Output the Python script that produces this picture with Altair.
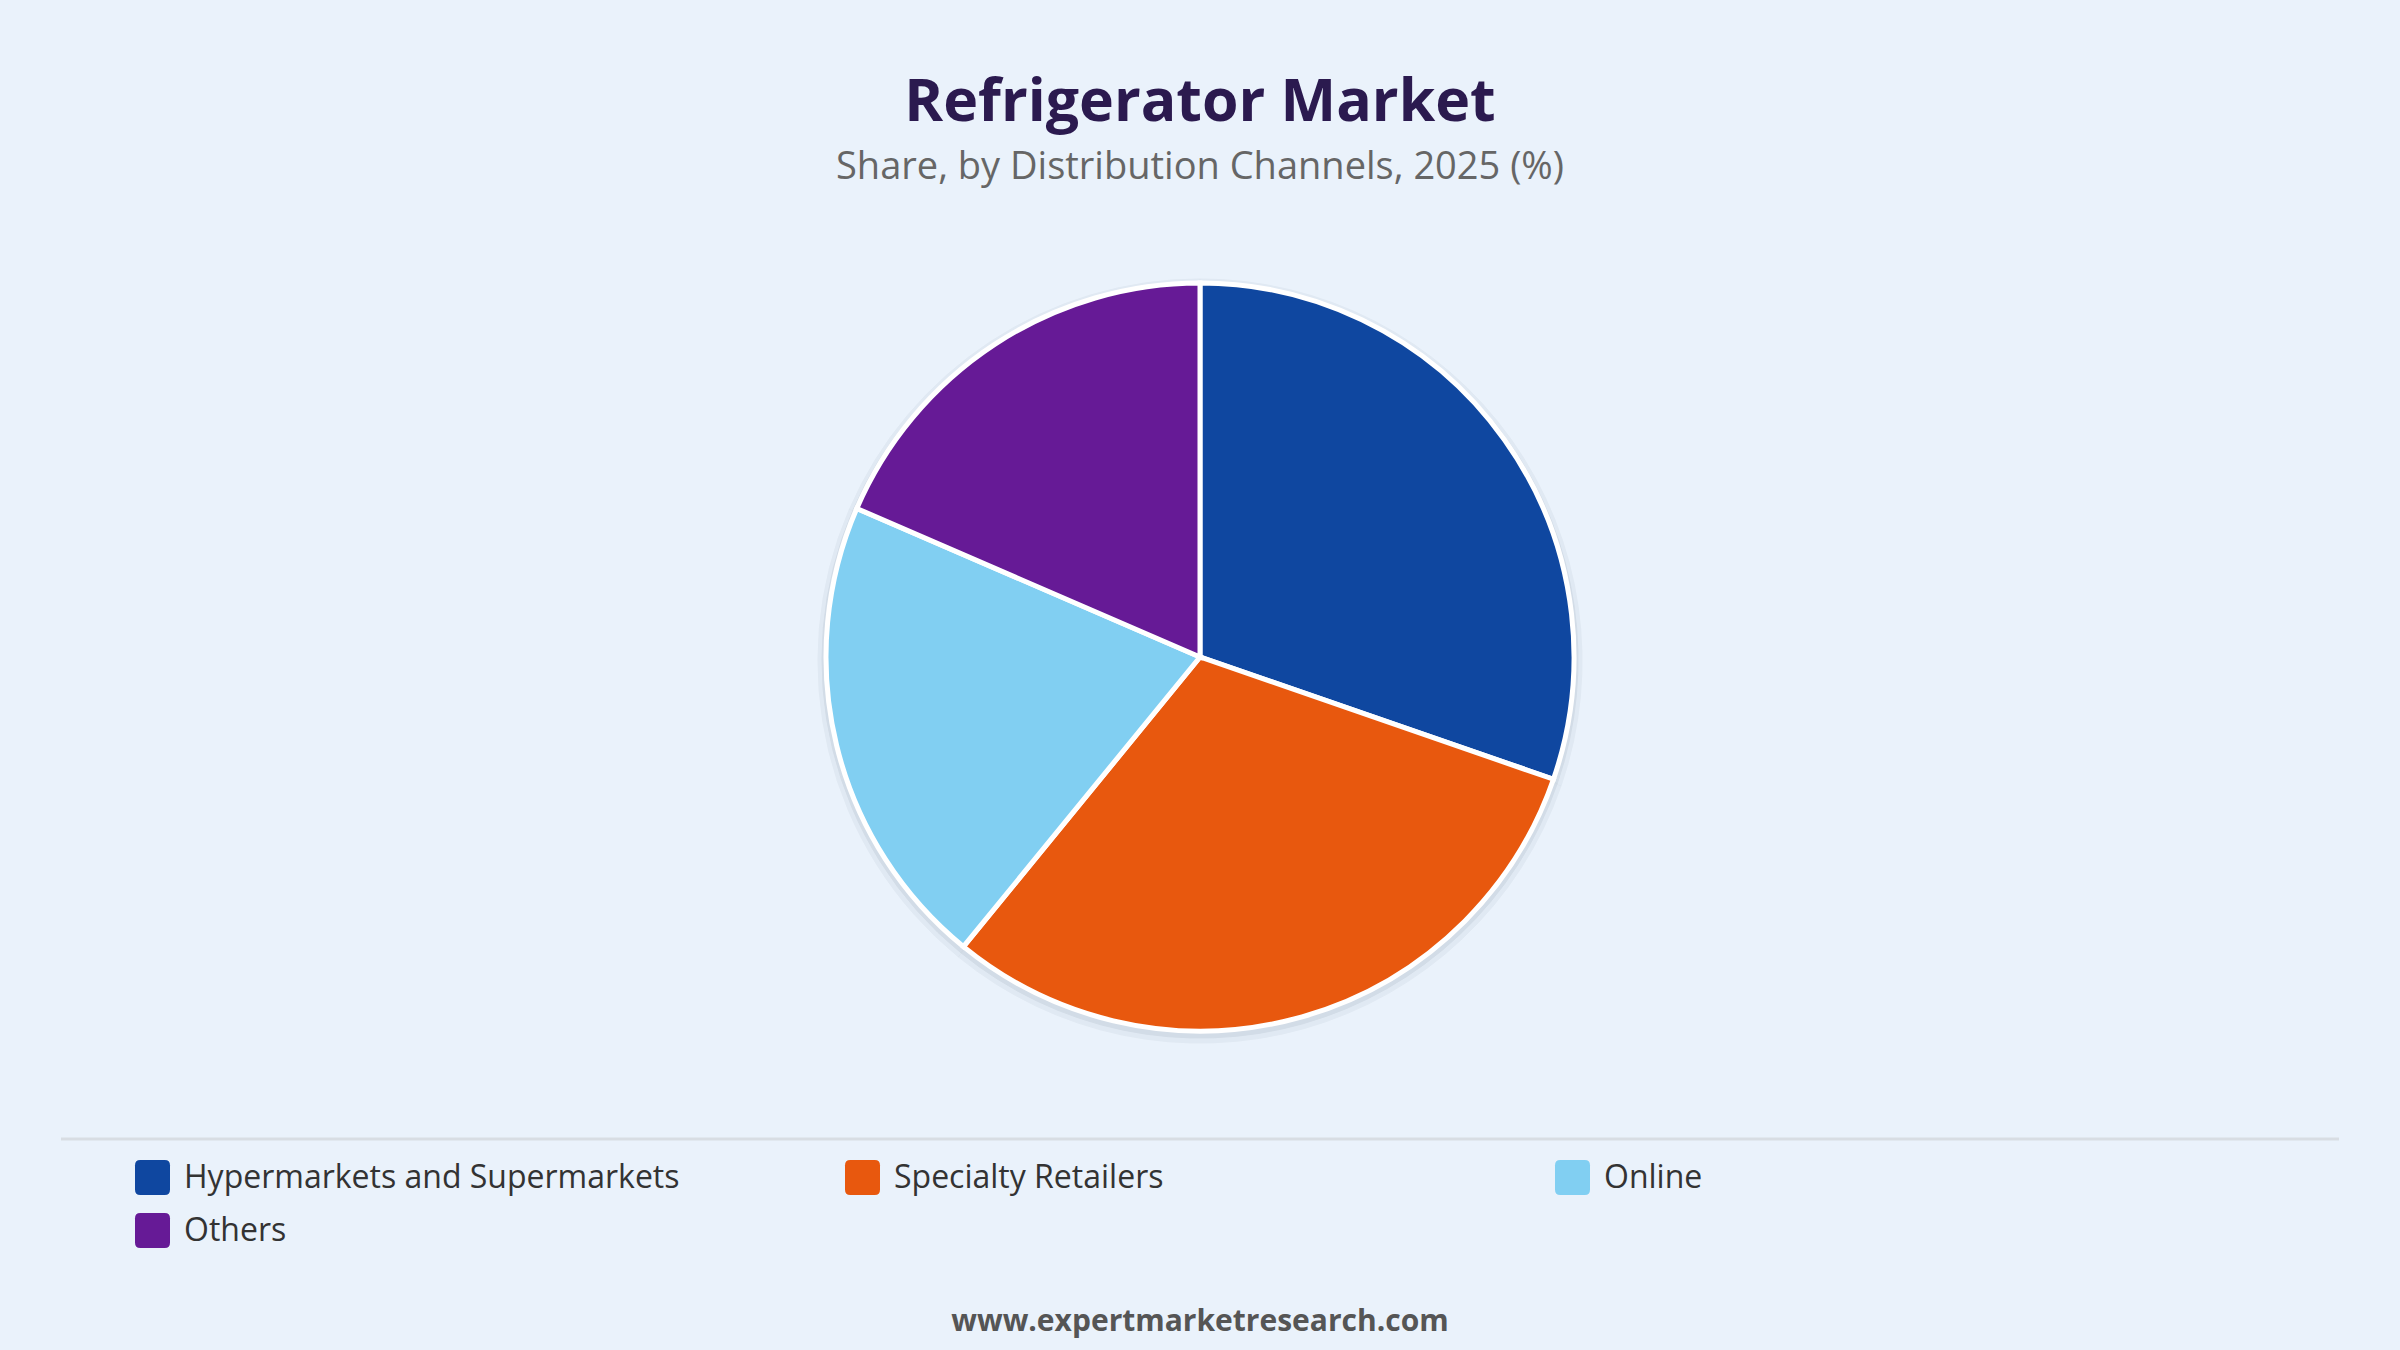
import altair as alt
import pandas as pd

categories = ["Hypermarkets and Supermarkets", "Specialty Retailers", "Online", "Others"]
shares = [30.3, 30.6, 20.6, 18.5]
colors = ["#0F47A0", "#E8580E", "#81CFF2", "#661A96"]

title_text = "Refrigerator Market"
subtitle_text = "Share, by Distribution Channels, 2025 (%)"
footer_text = "www.expertmarketresearch.com"

df = pd.DataFrame({"category": categories, "share": shares, "order": list(range(len(categories)))})

FONT = "Open Sans"
rounded = "M-0.7,-1 H0.7 Q1,-1 1,-0.7 V0.7 Q1,1 0.7,1 H-0.7 Q-1,1 -1,0.7 V-0.7 Q-1,-1 -0.7,-1 Z"

base = alt.Chart(df)

shadow1 = base.mark_arc(radius=382, color="#dbe4ee", stroke="#dbe4ee", opacity=0.6).encode(
    theta=alt.Theta("share:Q", stack=True),
    order=alt.Order("order:Q"),
    x=alt.value(1200), y=alt.value(661),
)
shadow2 = base.mark_arc(radius=378, color="#cdd7e2", stroke="#cdd7e2", opacity=0.7).encode(
    theta=alt.Theta("share:Q", stack=True),
    order=alt.Order("order:Q"),
    x=alt.value(1200), y=alt.value(660),
)

pie = base.mark_arc(radius=374, stroke="white", strokeWidth=5).encode(
    theta=alt.Theta("share:Q", stack=True),
    order=alt.Order("order:Q"),
    color=alt.Color(
        "category:N",
        scale=alt.Scale(domain=categories, range=colors),
        sort=categories,
        legend=alt.Legend(
            title=None,
            orient="none",
            legendX=135,
            legendY=1160,
            direction="horizontal",
            columns=3,
            gridAlign="all",
            columnPadding=165,
            rowPadding=18,
            symbolType=rounded,
            symbolSize=1225,
            symbolStrokeWidth=0,
            symbolOpacity=1,
            labelFont=FONT,
            labelFontSize=32,
            labelColor="#333333",
            labelOffset=14,
            labelLimit=800,
        ),
    ),
    x=alt.value(1200), y=alt.value(657),
)

def text_layer(txt, y, size, weight, color):
    return alt.Chart(pd.DataFrame({"t": [txt]})).mark_text(
        font=FONT, fontSize=size, fontWeight=weight, color=color, align="center", baseline="middle"
    ).encode(text="t:N", x=alt.value(1200), y=alt.value(y))

title = text_layer(title_text, 103, 59, "bold", "#2B1A4F")
subtitle = text_layer(subtitle_text, 168, 38, "normal", "#666666")
footer = text_layer(footer_text, 1322, 30, "bold", "#555555")

sep = alt.Chart(pd.DataFrame({"a": [0]})).mark_rule(color="#d8dde3", strokeWidth=3).encode(
    x=alt.value(61), x2=alt.value(2339), y=alt.value(1139)
)

chart = alt.layer(shadow1, shadow2, pie, title, subtitle, footer, sep).properties(
    width=2400, height=1350, autosize="none", padding=0, background="#EAF2FB"
).configure_view(stroke=None)

chart.save("out.html", embed_options={"renderer": "svg", "actions": False})
